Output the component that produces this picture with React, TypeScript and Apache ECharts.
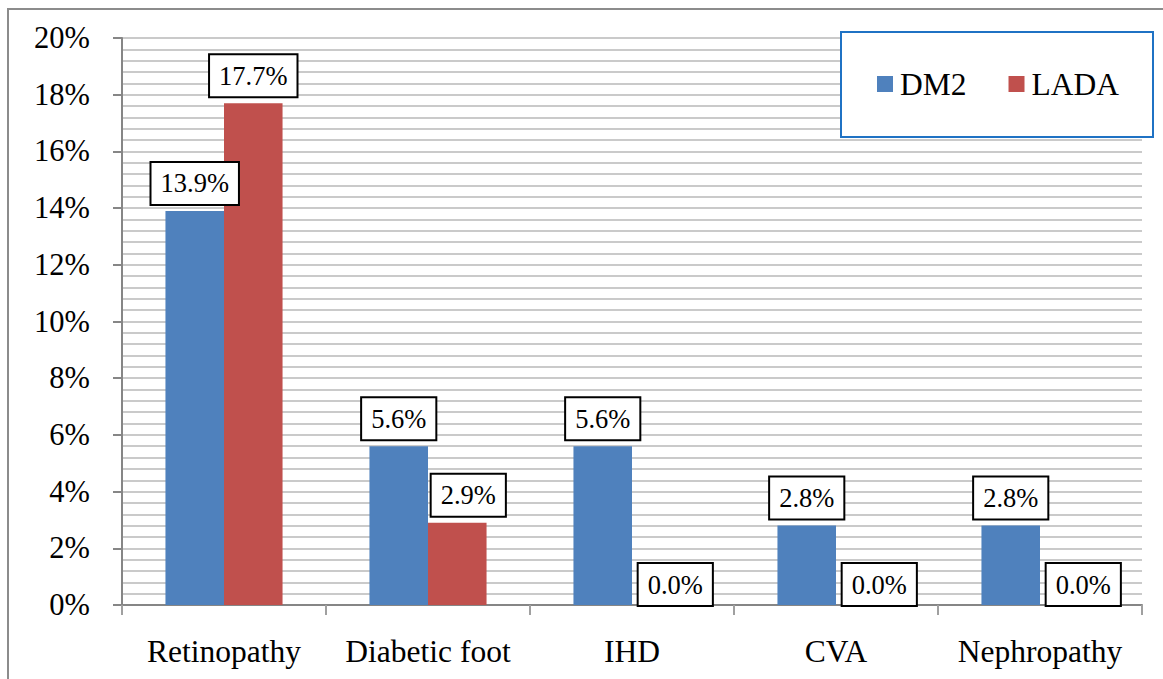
import React, { useEffect, useRef } from "react";
import * as echarts from "echarts";

const categories = ["Retinopathy", "Diabetic foot", "IHD", "CVA", "Nephropathy"];
const dm2Values = [13.9, 5.6, 5.6, 2.8, 2.8];
const ladaValues = [17.7, 2.9, 0.0, 0.0, 0.0];
const seriesNames = ["DM2", "LADA"];
const yTicks = { min: 0, max: 20, interval: 2 };

const FONT = "Liberation Serif";
const BLUE = "#4F81BD";
const RED = "#C0504D";

export default function App() {
  const ref = useRef<HTMLDivElement>(null);
  useEffect(() => {
    if (!ref.current) return;
    const chart = echarts.init(ref.current, undefined, { renderer: "svg" });

    const labelBase = {
      show: true,
      position: "top" as const,
      distance: 7,
      fontFamily: FONT,
      fontSize: 26.5,
      color: "#000",
      backgroundColor: "#fff",
      borderColor: "#000",
      borderWidth: 2,
      padding: [7, 9, 7, 9],
      formatter: (p: any) => Number(p.value).toFixed(1) + "%",
    };

    const nudges: Record<string, [number, number]> = {
      "LADA|Diabetic foot": [11, 0],
    };

    const buildData = (name: string, values: number[]) =>
      values.map((v, i) => {
        const key = name + "|" + categories[i];
        let offset: [number, number] | undefined = nudges[key];
        if (v === 0) offset = [14, 7];
        return offset ? { value: v, label: { offset } } : { value: v };
      });

    const option: any = {
      animation: false,
      backgroundColor: "#fff",
      textStyle: { fontFamily: FONT },
      grid: { left: 122, right: 21, top: 38, bottom: 74, containLabel: false },
      legend: {
        data: seriesNames,
        left: 877,
        top: 68,
        padding: 0,
        icon: "rect",
        itemWidth: 16,
        itemHeight: 16,
        itemGap: 42,
        z: 10,
        textStyle: { fontFamily: FONT, fontSize: 31.5, color: "#000", padding: [0, 0, 0, 2] },
      },
      graphic: [
        {
          type: "rect",
          z: 0,
          shape: { x: 8, y: 9, width: 1170, height: 700 },
          style: { fill: "none", stroke: "#8C8C8C", lineWidth: 2 },
        },
        {
          type: "rect",
          z: 5,
          shape: { x: 841, y: 32, width: 312, height: 105 },
          style: { fill: "#fff", stroke: "#1F72C4", lineWidth: 2 },
        },
      ],
      xAxis: {
        type: "category",
        data: categories,
        axisLine: { lineStyle: { color: "#868686", width: 2 } },
        axisTick: { show: true, length: 10, lineStyle: { color: "#A0A0A0", width: 2 } },
        axisLabel: {
          fontFamily: FONT,
          fontSize: 31.5,
          color: "#000",
          margin: 30,
          interval: 0,
          hideOverlap: false,
        },
        splitLine: { show: false },
      },
      yAxis: {
        type: "value",
        min: yTicks.min,
        max: yTicks.max,
        interval: yTicks.interval,
        axisLine: { show: true, lineStyle: { color: "#868686", width: 2 } },
        axisTick: { show: true, length: 9, lineStyle: { color: "#868686", width: 2 } },
        axisLabel: {
          fontFamily: FONT,
          fontSize: 30.5,
          color: "#000",
          margin: 32,
          formatter: (v: number) => v + "%",
        },
        splitLine: { show: true, lineStyle: { color: "#B8B8B8", width: 1.6 } },
        minorTick: { show: false, splitNumber: 5 },
        minorSplitLine: { show: true, lineStyle: { color: "#B8B8B8", width: 1.6 } },
      },
      series: [
        {
          name: seriesNames[0],
          type: "bar",
          data: buildData(seriesNames[0], dm2Values),
          itemStyle: { color: BLUE },
          barGap: "0%",
          barCategoryGap: "42.6%",
          label: labelBase,
        },
        {
          name: seriesNames[1],
          type: "bar",
          data: buildData(seriesNames[1], ladaValues),
          itemStyle: { color: RED },
          barGap: "0%",
          barCategoryGap: "42.6%",
          label: labelBase,
        },
      ],
    };
    chart.setOption(option);
    return () => chart.dispose();
  }, []);
  return (
    <div
      ref={ref}
      style={{ position: "fixed", left: 0, top: 0, width: 1163, height: 679 }}
    />
  );
}
